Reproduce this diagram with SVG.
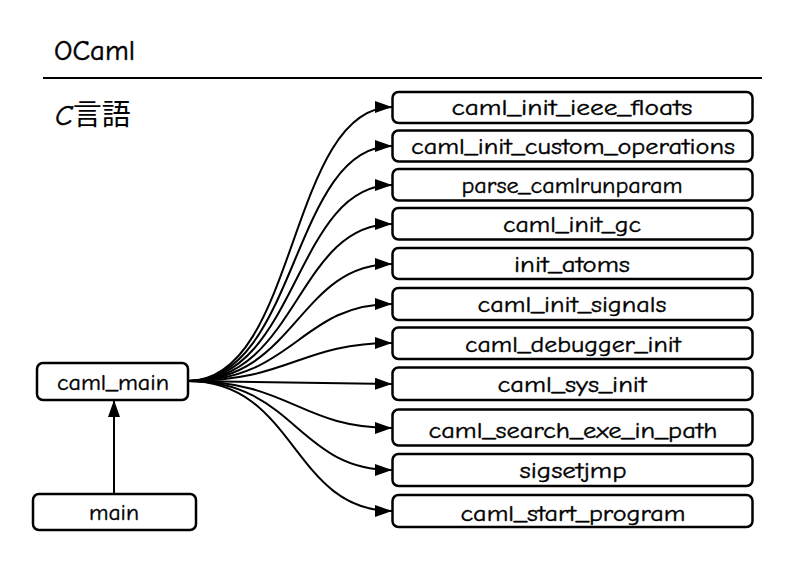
<svg xmlns="http://www.w3.org/2000/svg" width="800" height="566" viewBox="0 0 800 566">
<style>
  .box { fill: #ffffff; stroke: #000000; stroke-width: 2.5; }
  .lbl { font-family: "Comic Sans MS", "Comic Neue", "Open Sans", "Noto Sans CJK JP", sans-serif; font-size: 23px; font-weight: 400; fill: #000000; stroke: #000000; stroke-width: 0.4; text-anchor: middle; }
  .title { font-family: "Comic Sans MS", "Comic Neue", "Open Sans", "Noto Sans CJK JP", sans-serif; font-size: 29px; font-weight: 400; fill: #000000; }
  .edge { fill: none; stroke: #000000; stroke-width: 2; }
</style>
<defs>
  <marker id="arr" markerUnits="userSpaceOnUse" markerWidth="17" markerHeight="12" refX="17" refY="6" orient="auto">
    <path d="M0,0 L17,6 L0,12 Z" fill="#000000"/>
  </marker>
</defs>
<rect width="800" height="566" fill="#ffffff"/>
<text class="title" x="54" y="60" textLength="81" lengthAdjust="spacingAndGlyphs" stroke="#000000" stroke-width="0.5">OCaml</text>
<line x1="43" y1="78" x2="762" y2="78" stroke="#000000" stroke-width="2"/>
<text class="title" x="55" y="125"><tspan font-style="italic" stroke="#000000" stroke-width="0.5">C</tspan>言語</text>

<g id="connectors">
  <path class="edge" marker-end="url(#arr)" d="M114,494 L114,400"/>
  <path class="edge" marker-end="url(#arr)" d="M188,381 C298,381 288,107 392,107"/>
  <path class="edge" marker-end="url(#arr)" d="M188,381 C298,381 291,146 392,146"/>
  <path class="edge" marker-end="url(#arr)" d="M188,381 C298,381 294,185 392,185"/>
  <path class="edge" marker-end="url(#arr)" d="M188,381 C298,381 296,224 392,224"/>
  <path class="edge" marker-end="url(#arr)" d="M188,381 C296,381 298,264 392,264"/>
  <path class="edge" marker-end="url(#arr)" d="M188,381 C294,381 300,304 392,304"/>
  <path class="edge" marker-end="url(#arr)" d="M188,381 C290,381 300,343 392,343"/>
  <path class="edge" marker-end="url(#arr)" d="M188,381 L392,384"/>
  <path class="edge" marker-end="url(#arr)" d="M188,381 C290,381 300,428 392,428"/>
  <path class="edge" marker-end="url(#arr)" d="M188,381 C295,381 297,470 392,470"/>
  <path class="edge" marker-end="url(#arr)" d="M188,381 C296,381 292,511 392,511"/>
</g>

<g id="caml_main">
  <rect class="box" x="37" y="363" width="151" height="37" rx="6"/>
  <text class="lbl" x="113" y="390" textLength="112" lengthAdjust="spacingAndGlyphs">caml_main</text>
</g>
<g id="main">
  <rect class="box" x="33" y="494" width="163" height="36" rx="6"/>
  <text class="lbl" x="114" y="520" textLength="50" lengthAdjust="spacingAndGlyphs">main</text>
</g>

<g id="caml_init_ieee_floats">
  <rect class="box" x="392.5" y="92" width="360" height="31" rx="6"/>
  <text class="lbl" x="572" y="115" textLength="241" lengthAdjust="spacingAndGlyphs">caml_init_ieee_floats</text>
</g>
<g id="caml_init_custom_operations">
  <rect class="box" x="392.5" y="130.5" width="360" height="31" rx="6"/>
  <text class="lbl" x="573" y="154" textLength="324" lengthAdjust="spacingAndGlyphs">caml_init_custom_operations</text>
</g>
<g id="parse_camlrunparam">
  <rect class="box" x="392.5" y="169" width="360" height="31.5" rx="6"/>
  <text class="lbl" x="572" y="193" textLength="221" lengthAdjust="spacingAndGlyphs">parse_camlrunparam</text>
</g>
<g id="caml_init_gc">
  <rect class="box" x="392.5" y="208" width="360" height="31.5" rx="6"/>
  <text class="lbl" x="572" y="232" textLength="138" lengthAdjust="spacingAndGlyphs">caml_init_gc</text>
</g>
<g id="init_atoms">
  <rect class="box" x="392.5" y="248" width="360" height="31" rx="6"/>
  <text class="lbl" x="572" y="272" textLength="116" lengthAdjust="spacingAndGlyphs">init_atoms</text>
</g>
<g id="caml_init_signals">
  <rect class="box" x="392.5" y="288" width="360" height="32" rx="6"/>
  <text class="lbl" x="572" y="312" textLength="189" lengthAdjust="spacingAndGlyphs">caml_init_signals</text>
</g>
<g id="caml_debugger_init">
  <rect class="box" x="392.5" y="327.5" width="360" height="31.5" rx="6"/>
  <text class="lbl" x="573" y="352" textLength="216" lengthAdjust="spacingAndGlyphs">caml_debugger_init</text>
</g>
<g id="caml_sys_init">
  <rect class="box" x="392.5" y="367.5" width="360" height="32.5" rx="6"/>
  <text class="lbl" x="572" y="392" textLength="149" lengthAdjust="spacingAndGlyphs">caml_sys_init</text>
</g>
<g id="caml_search_exe_in_path">
  <rect class="box" x="392.5" y="409.5" width="360" height="36" rx="6"/>
  <text class="lbl" x="573" y="438" textLength="289" lengthAdjust="spacingAndGlyphs">caml_search_exe_in_path</text>
</g>
<g id="sigsetjmp">
  <rect class="box" x="392.5" y="454" width="360" height="32" rx="6"/>
  <text class="lbl" x="573" y="478" textLength="107" lengthAdjust="spacingAndGlyphs">sigsetjmp</text>
</g>
<g id="caml_start_program">
  <rect class="box" x="392.5" y="495" width="360" height="32" rx="6"/>
  <text class="lbl" x="573" y="521" textLength="225" lengthAdjust="spacingAndGlyphs">caml_start_program</text>
</g>
</svg>
